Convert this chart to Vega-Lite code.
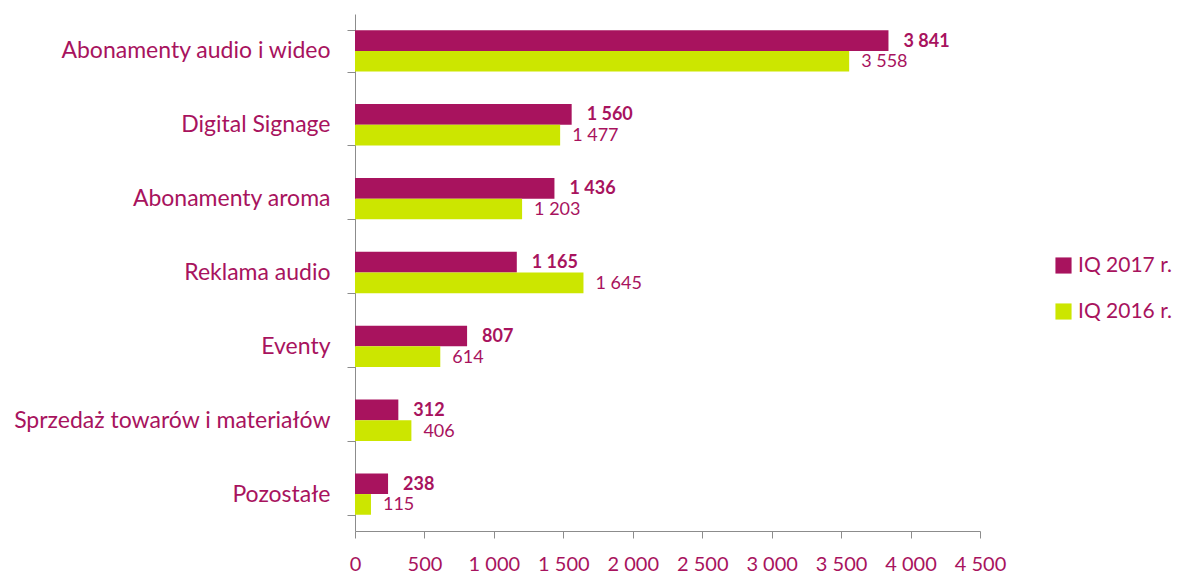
{
  "$schema": "https://vega.github.io/schema/vega-lite/v6.json",
  "width": 625,
  "height": 517,
  "autosize": {"type": "none"},
  "padding": {"left": 355, "top": 14, "right": 198, "bottom": 47},
  "config": {
    "locale": {"number": {"decimal": ",", "thousands": "\u00a0", "grouping": [3], "currency": ["", " zł"]}},
    "view": {"stroke": null},
    "font": "Lato"
  },
  "data": {
    "values": [
      {"cat": "Abonamenty audio i wideo", "series": "IQ 2017 r.", "value": 3841},
      {"cat": "Abonamenty audio i wideo", "series": "IQ 2016 r.", "value": 3558},
      {"cat": "Digital Signage", "series": "IQ 2017 r.", "value": 1560},
      {"cat": "Digital Signage", "series": "IQ 2016 r.", "value": 1477},
      {"cat": "Abonamenty aroma", "series": "IQ 2017 r.", "value": 1436},
      {"cat": "Abonamenty aroma", "series": "IQ 2016 r.", "value": 1203},
      {"cat": "Reklama audio", "series": "IQ 2017 r.", "value": 1165},
      {"cat": "Reklama audio", "series": "IQ 2016 r.", "value": 1645},
      {"cat": "Eventy", "series": "IQ 2017 r.", "value": 807},
      {"cat": "Eventy", "series": "IQ 2016 r.", "value": 614},
      {"cat": "Sprzedaż towarów  i materiałów", "series": "IQ 2017 r.", "value": 312},
      {"cat": "Sprzedaż towarów  i materiałów", "series": "IQ 2016 r.", "value": 406},
      {"cat": "Pozostałe", "series": "IQ 2017 r.", "value": 238},
      {"cat": "Pozostałe", "series": "IQ 2016 r.", "value": 115}
    ]
  },
  "encoding": {
    "y": {
      "field": "cat", "type": "nominal", "sort": null, "title": null,
      "scale": {"paddingInner": 0.44, "paddingOuter": 0.22},
      "axis": {
        "tickBand": "extent", "domainColor": "#8c8c8c", "tickColor": "#8c8c8c",
        "tickSize": 8, "labelFontSize": 23, "labelColor": "#A8135E",
        "labelPadding": 17, "labelLimit": 500
      }
    },
    "x": {
      "field": "value", "type": "quantitative", "title": null,
      "scale": {"domain": [0, 4500], "nice": false},
      "axis": {
        "values": [0, 500, 1000, 1500, 2000, 2500, 3000, 3500, 4000, 4500],
        "format": ",d", "grid": false, "domainColor": "#8c8c8c", "tickColor": "#8c8c8c",
        "tickSize": 7, "labelFontSize": 20, "labelColor": "#A8135E", "labelPadding": 16,
        "labelOverlap": false, "labelFlush": false
      }
    },
    "yOffset": {"field": "series", "type": "nominal", "sort": ["IQ 2017 r.", "IQ 2016 r."]}
  },
  "layer": [
    {
      "mark": {"type": "bar"},
      "encoding": {
        "color": {
          "field": "series", "type": "nominal", "title": null,
          "scale": {"domain": ["IQ 2017 r.", "IQ 2016 r."], "range": ["#A8135E", "#CCE600"]},
          "legend": {
            "orient": "none", "legendX": 698, "legendY": 241,
            "symbolType": "square", "symbolSize": 260, "symbolStrokeWidth": 0,
            "labelFontSize": 21, "labelColor": "#A8135E", "rowPadding": 24, "labelOffset": 4
          }
        }
      }
    },
    {
      "transform": [{"filter": "datum.series === 'IQ 2017 r.'"}],
      "mark": {"type": "text", "align": "left", "dx": 15, "dy": 1, "fontSize": 18, "fontWeight": "bold", "color": "#A8135E"},
      "encoding": {"text": {"field": "value", "type": "quantitative", "format": ",d"}}
    },
    {
      "transform": [{"filter": "datum.series === 'IQ 2016 r.'"}],
      "mark": {"type": "text", "align": "left", "dx": 12, "dy": 1, "fontSize": 18, "color": "#A8135E"},
      "encoding": {"text": {"field": "value", "type": "quantitative", "format": ",d"}}
    }
  ]
}
